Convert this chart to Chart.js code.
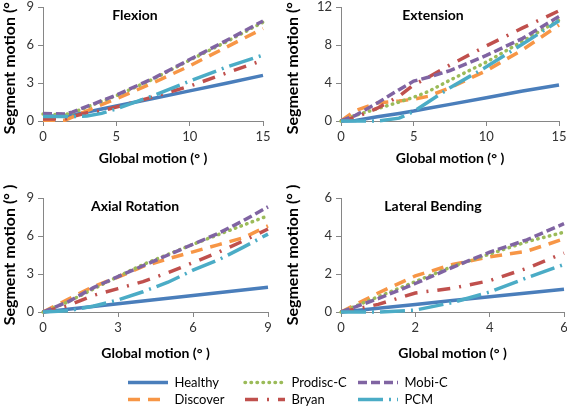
<!DOCTYPE html>
<html>
<head>
<meta charset="utf-8">
<script src="https://cdn.jsdelivr.net/npm/chart.js@4"></script>
<style>
  body { margin: 0; background: #fff; overflow: hidden; }
  #wrap { position: relative; width: 567px; height: 408px; overflow: hidden; background: #fff; }
  canvas { position: absolute; }
</style>
</head>
<body>
<div id="wrap">
  <canvas id="flexion" width="283" height="175" style="left:0;top:0"></canvas>
  <canvas id="extension" width="284" height="175" style="left:283px;top:0"></canvas>
  <canvas id="axial" width="283" height="190" style="left:0;top:180px"></canvas>
  <canvas id="lateral" width="284" height="190" style="left:283px;top:180px"></canvas>
  <canvas id="legend" width="443" height="38" style="left:124px;top:372px"></canvas>
</div>
<script>
const seriesNames = ['Healthy', 'Discover', 'Prodisc-C', 'Bryan', 'Mobi-C', 'PCM'];

// Flexion (global vs segment motion, degrees)
const flexX = [0, 1.5, 2, 3, 4, 5, 7.5, 10, 12.5, 15];
const flexHealthy = [0.4, 0.42, 0.47, 0.7, 0.95, 1.18, 1.78, 2.38, 2.98, 3.6];
const flexDiscover = [0.05, 0.05, 0.3, 0.8, 1.3, 1.75, 3.0, 4.35, 5.83, 7.3];
const flexProdisc = [0.55, 0.5, 0.65, 1.1, 1.55, 2.0, 3.3, 4.8, 6.25, 7.8];
const flexBryan = [0.15, 0.15, 0.35, 0.65, 0.8, 1.1, 1.9, 2.75, 3.78, 4.8];
const flexMobiC = [0.6, 0.55, 0.7, 1.15, 1.6, 2.05, 3.35, 4.85, 6.35, 7.9];
const flexPCM = [0.35, 0.35, 0.35, 0.4, 0.6, 0.95, 2.0, 3.15, 4.25, 5.2];

// Extension
const extX = [0, 1, 2.5, 4, 5, 6, 7.5, 10, 12.5, 15];
const extHealthy = [0, 0.05, 0.45, 0.8, 1.05, 1.35, 1.75, 2.45, 3.15, 3.8];
const extDiscover = [0, 1.1, 1.9, 2.1, 2.3, 2.6, 3.5, 5.3, 7.5, 10.1];
const extProdisc = [0, 0.6, 1.3, 2.0, 2.5, 3.1, 4.3, 6.2, 8.4, 10.6];
const extBryan = [0, 0.4, 1.35, 2.6, 3.8, 4.6, 5.9, 7.9, 9.8, 11.6];
const extMobiC = [0, 0.6, 1.9, 3.3, 4.2, 4.6, 5.3, 6.9, 8.7, 11.0];
const extPCM = [0, 0, 0, 0.3, 1.0, 2.0, 3.5, 5.7, 8.1, 10.55];

// Axial Rotation
const axX = [0, 1, 2, 3, 4, 5, 6, 7, 8, 9];
const axHealthy = [0, 0.22, 0.43, 0.65, 0.87, 1.08, 1.3, 1.52, 1.73, 1.95];
const axDiscover = [0, 1.0, 2.0, 2.75, 3.6, 4.2, 4.75, 5.3, 5.85, 6.8];
const axProdisc = [0, 0.8, 1.8, 2.8, 3.75, 4.55, 5.35, 6.1, 6.85, 7.6];
const axBryan = [0, 0.5, 1.3, 1.85, 2.4, 3.1, 3.9, 4.7, 5.6, 6.55];
const axMobiC = [0, 0.8, 1.9, 2.8, 3.65, 4.5, 5.35, 6.2, 7.2, 8.3];
const axPCM = [0, 0.1, 0.45, 0.95, 1.6, 2.35, 3.3, 4.1, 5.1, 6.15];

// Lateral Bending
const latX = [0, 1, 2, 3, 4, 5, 6];
const latHealthy = [0, 0.2, 0.4, 0.6, 0.8, 1.0, 1.2];
const latDiscover = [0, 1.0, 1.9, 2.5, 2.9, 3.2, 3.85];
const latProdisc = [0, 0.8, 1.6, 2.4, 3.05, 3.7, 4.2];
const latBryan = [0, 0.4, 1.0, 1.25, 1.65, 2.3, 3.1];
const latMobiC = [0, 0.7, 1.5, 2.35, 3.15, 3.8, 4.65];
const latPCM = [0, 0, 0.1, 0.5, 1.05, 1.8, 2.5];

// line look for each series (same order as seriesNames)
const seriesColors = ['#4a7ebb', '#f79646', '#9bbb59', '#c0504d', '#8064a2', '#4bacc6'];
const seriesDash = [[], [12, 8], [0.5, 5.5], [13, 9, 2, 9], [9, 4], [25, 6, 2, 6]];
const seriesCap = ['butt', 'butt', 'round', 'butt', 'butt', 'butt'];

Chart.defaults.font.family = 'Lato';
Chart.defaults.color = '#333';

const axisGray = '#868686';

// panel caption drawn inside the plot area
const panelTitle = {
    id: 'panelTitle',
    afterDraw(chart, args, opts) {
        const { ctx, chartArea } = chart;
        ctx.save();
        ctx.font = 'bold 14px Lato';
        ctx.fillStyle = '#000';
        ctx.textAlign = 'center';
        ctx.textBaseline = 'middle';
        ctx.fillText(opts.text, chartArea.left + 92, chartArea.top + 8);
        ctx.restore();
    }
};

function makePanel(id, title, xs, ys, xMax, xStep, yMax, yStep, box) {
    const datasets = ys.map((vals, i) => ({
        label: seriesNames[i],
        data: xs.map((x, j) => ({ x: x, y: vals[j] })),
        borderColor: seriesColors[i],
        borderWidth: 3.5,
        borderDash: seriesDash[i],
        borderCapStyle: seriesCap[i],
        pointRadius: 0,
        tension: 0,
        clip: 5,
        order: 6 - i // later series on top, like the original
    }));

    new Chart(document.getElementById(id), {
        type: 'line',
        data: { datasets: datasets },
        options: {
            responsive: false,
            animation: false,
            layout: { padding: { top: box.top, right: box.right, bottom: 0, left: 0 } },
            scales: {
                x: {
                    type: 'linear',
                    min: 0,
                    max: xMax,
                    ticks: { stepSize: xStep, padding: 3, maxRotation: 0, font: { size: 13 } },
                    grid: { drawOnChartArea: false, drawTicks: true, tickLength: 5, color: axisGray },
                    border: { color: axisGray },
                    title: {
                        display: true, text: 'Global motion (° )', color: '#000',
                        font: { size: 14, weight: 'bold' }, padding: { top: 0, bottom: 8 }
                    },
                    afterFit: s => { s.height = box.xHeight; s.paddingLeft = 0; s.paddingRight = 0; }
                },
                y: {
                    min: 0,
                    max: yMax,
                    ticks: { stepSize: yStep, padding: 4, font: { size: 13 } },
                    grid: { drawOnChartArea: false, drawTicks: true, tickLength: 5, color: axisGray },
                    border: { color: axisGray },
                    title: {
                        display: true, text: 'Segment motion (° )', color: '#000',
                        font: { size: 16, weight: 'bold' }, padding: { top: 0, bottom: 0 }
                    },
                    afterFit: s => { s.width = box.yWidth; s.paddingTop = 0; s.paddingBottom = 0; }
                }
            },
            plugins: {
                legend: { display: false },
                tooltip: { enabled: false },
                panelTitle: { text: title }
            }
        },
        plugins: [panelTitle]
    });
}

makePanel('flexion', 'Flexion', flexX,
    [flexHealthy, flexDiscover, flexProdisc, flexBryan, flexMobiC, flexPCM],
    15, 5, 9, 3, { top: 7, right: 20, yWidth: 43, xHeight: 54 });
makePanel('extension', 'Extension', extX,
    [extHealthy, extDiscover, extProdisc, extBryan, extMobiC, extPCM],
    15, 5, 12, 4, { top: 7, right: 8, yWidth: 58, xHeight: 54 });
makePanel('axial', 'Axial Rotation', axX,
    [axHealthy, axDiscover, axProdisc, axBryan, axMobiC, axPCM],
    9, 3, 9, 3, { top: 18, right: 15, yWidth: 43, xHeight: 58 });
makePanel('lateral', 'Lateral Bending', latX,
    [latHealthy, latDiscover, latProdisc, latBryan, latMobiC, latPCM],
    6, 2, 6, 2, { top: 18, right: 3, yWidth: 58, xHeight: 58 });

// legend: vertical legend wraps into columns of two, widths set to line up like the original
const legendColumns = {
    id: 'legendColumns',
    afterLayout(chart) {
        const lg = chart.legend;
        if (!lg || !lg.columnSizes) return;
        const widths = [113, 109, 100];
        lg.columnSizes.forEach((c, i) => { c.width = widths[i] || c.width; });
        lg.width = chart.width;
        lg.right = lg.left + chart.width;
    }
};

new Chart(document.getElementById('legend'), {
    type: 'line',
    data: {
        datasets: seriesNames.map((name, i) => ({
            label: name,
            data: [],
            borderColor: seriesColors[i],
            backgroundColor: seriesColors[i],
            borderWidth: 3.5,
            borderDash: seriesDash[i],
            borderCapStyle: seriesCap[i]
        }))
    },
    options: {
        responsive: false,
        animation: false,
        layout: { padding: 0 },
        scales: { x: { display: false }, y: { display: false } },
        plugins: {
            tooltip: { enabled: false },
            legend: {
                position: 'left',
                align: 'start',
                maxWidth: 443,
                labels: {
                    usePointStyle: true,
                    pointStyle: 'line',
                    pointStyleWidth: 40,
                    padding: 4,
                    color: '#000',
                    font: { size: 13 },
                    // point style drops the dash, so put the series dash back on each item
                    generateLabels: chart => Chart.defaults.plugins.legend.labels.generateLabels(chart).map(item => ({
                        ...item,
                        strokeStyle: seriesColors[item.datasetIndex],
                        lineWidth: 3.5,
                        lineDash: seriesDash[item.datasetIndex],
                        lineCap: seriesCap[item.datasetIndex]
                    }))
                }
            }
        }
    },
    plugins: [legendColumns]
});
</script>
</body>
</html>
